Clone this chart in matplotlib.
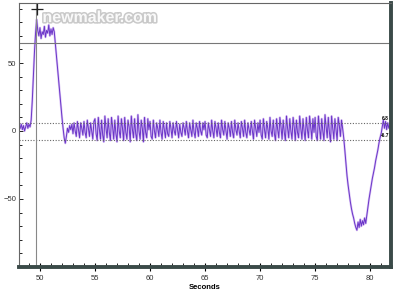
import numpy as np
import matplotlib
matplotlib.use("Agg")
import matplotlib.pyplot as plt
import matplotlib.patheffects as pe
from matplotlib.ticker import MultipleLocator

# signal segments: (start second, samples every 0.1 s)
segments = [
    (48.2, [2, 5, 1, 4, 0, 3, 6, 2, 5, 3,
            8, 22, 40, 58, 72, 82,
            74, 70, 76, 68, 73, 71, 77, 69, 74, 72, 78, 70, 75, 71, 76, 73,
            64, 55, 46, 37, 28, 19, 10, 2, -5, -9,
            -4, 2, -1, 4, 1]),
    (52.9, [5, -2, 6, 0, -4, 7, 1, -5, 6, 2, -3, 7, -1, -5, 8, 2, -4, 6, 0, -6, 7]),
    (55.0, [9, -2, -7, 10, 1, -6, 8, -3, -8, 11, 2, -5, 9, -1, -7, 10, 3, -6, 8, -2,
            -8, 11, 0, -5, 9, 2, -7, 10, -1, -6, 8, 3, -8, 11, 1, -5, 9, -2, -7, 12,
            0, -6, 8, 2, -8, 10, -1, -5, 9, 1]),
    (60.0, [7, -4, -6, 8, 0, -5, 6, 2, -4, 8, -1, -6, 7, 1, -5, 6, -2, -4, 7, 2,
            -5, 6, 0, -3, 7, 1, -5, 5, -1, -4, 6, 2, -3, 7, 0, -5, 6, 1, -4, 8,
            -1, -5, 6, 2, -4, 7, 0, -3, 6, 1]),
    (65.0, [7, -3, -5, 6, 1, -4, 8, 0, -5, 7, 2, -4, 6, -1, -5, 8, 1, -3, 7, 0,
            -6, 6, 2, -4, 7, -1, -5, 8, 1, -3, 6, 0, -5, 7, 2, -4, 8, -1, -5, 6,
            1, -3, 7, 0, -6, 8, 2, -4, 6, -1]),
    (70.0, [8, -3, -6, 9, 1, -5, 7, 2, -6, 10, 0, -4, 8, -2, -7, 9, 1, -5, 10, 3,
            -6, 8, -1, -7, 11, 2, -5, 9, 0, -6, 10, 3, -7, 8, -1, -5, 11, 2, -6, 9,
            0, -7, 10, 1, -5, 11, 3, -6, 9, -1]),
    (75.0, [10, -4, -7, 11, 2, -6, 9, 0, -7, 12, 3, -5, 10, -1, -8, 11, 2, -6, 9, 1,
            -7, 10, 4, -4, 8, 2]),
    (77.6, [-5, -14, -24, -33, -40, -46, -52, -57, -61, -64, -68, -71, -73,
            -67, -71, -65, -70, -66, -69, -64, -68, -62,
            -56, -50, -45, -40, -35, -31, -27, -22, -18, -14, -9, -5, -2, 3, 8, 2,
            7, 1, 6, 2, 4]),
]

upper_level, lower_level = 6.1, -6.4
upper_label, lower_label = "6.8", "-6.7"
limit_line = 65
cursor_x = 49.65

t = np.concatenate([start + 0.1 * np.arange(len(v)) for start, v in segments])
y = np.concatenate([np.array(v, float) for _, v in segments])

plt.rcParams["font.family"] = ["Liberation Sans", "DejaVu Sans"]

fig = plt.figure(figsize=(3.97, 2.93), dpi=100)
ax = fig.add_axes([0.048, 0.089, 0.937, 0.9])

ax.plot(t, y, color="#c9a8f0", lw=1.6, alpha=0.7)
ax.plot(t, y, color="#6a35c8", lw=0.7)

ax.axhline(limit_line, color="#777777", lw=0.8)
ax.axhline(upper_level, color="#666666", lw=0.8, ls=(0, (1, 1.5)))
ax.axhline(lower_level, color="#666666", lw=0.8, ls=(0, (1, 1.5)))
ax.axvline(cursor_x, color="#888888", lw=0.8)
ax.plot([49.75], [90], marker="+", color="#222222", ms=8, mew=0.9)

ax.text(81.35, upper_level + 1, upper_label, fontsize=3.5, fontweight="bold", ha="center", va="bottom")
ax.text(81.35, lower_level + 1, lower_label, fontsize=3.5, fontweight="bold", ha="center", va="bottom")

ax.set_xlim(48.1, 81.9)
ax.set_ylim(-100, 94)

ax.xaxis.set_major_locator(MultipleLocator(5))
ax.xaxis.set_minor_locator(MultipleLocator(1))
ax.set_yticks([-50, 0, 50])
ax.yaxis.set_minor_locator(MultipleLocator(10))
ax.tick_params(axis="x", which="major", direction="inout", length=6, width=0.8,
               labelsize=5.5, labelcolor="#333333", pad=3)
ax.tick_params(axis="x", which="minor", direction="in", length=3, width=0.6)
ax.tick_params(axis="y", which="major", direction="in", length=3, width=0.6,
               labelsize=5.5, labelcolor="#333333", pad=2)
ax.tick_params(axis="y", which="minor", direction="in", length=2, width=0.6)
ax.set_xlabel("Seconds", fontsize=5.5, fontweight="bold", labelpad=1.5)

for side in ("left", "top"):
    ax.spines[side].set_color("#666666")
    ax.spines[side].set_linewidth(0.8)
for side in ("bottom", "right"):
    ax.spines[side].set_color("#3a4a48")
    ax.spines[side].set_linewidth(2.8)

# watermark
fig.text(0.252, 0.94, "newmaker.com", fontsize=11.5, fontweight="bold", color="white",
         ha="center", va="center", alpha=0.9,
         path_effects=[pe.withStroke(linewidth=2.2, foreground="#c4c4c4")])

fig.savefig("out.png", dpi=100)
